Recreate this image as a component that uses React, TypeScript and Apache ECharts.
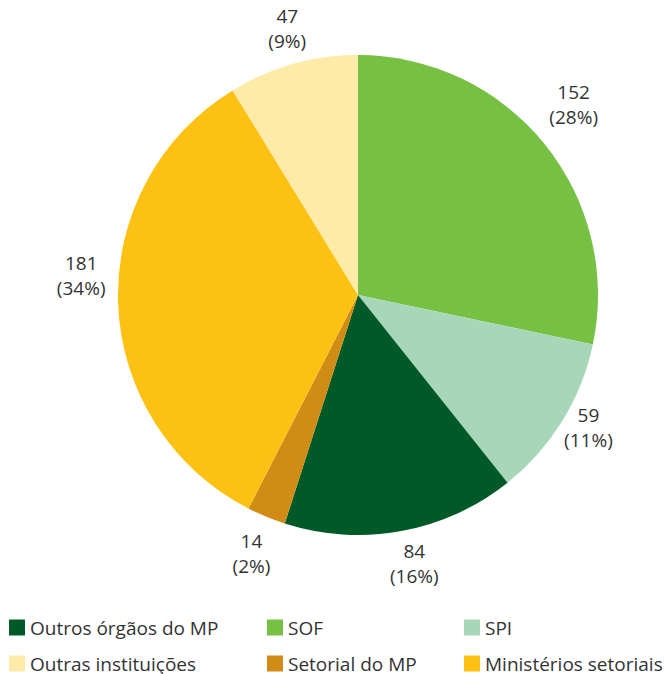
import React, { useEffect, useRef } from "react";
import * as echarts from "echarts";

const categories = ["SOF", "SPI", "Outros órgãos do MP", "Setorial do MP", "Ministérios setoriais", "Outras instituições"];
const values = [152, 59, 84, 14, 181, 47];
const percents = [28, 11, 16, 2, 34, 9];
const colors = ["#76C043", "#A7D7B8", "#005A28", "#D08C14", "#FDC113", "#FFEBA8"];
const labelOffsets = [[-1, -15], [-7, -14], [6, -6], [0, 1], [2, -30], [5, 2]];
const legendRows = [
  ["Outros órgãos do MP", "SOF", "SPI"],
  ["Outras instituições", "Setorial do MP", "Ministérios setoriais"],
];
const legendLefts = [9, 267, 464];
const legendTops = [618, 654];

export default function App() {
  const ref = useRef<HTMLDivElement>(null);
  useEffect(() => {
    if (!ref.current) return;
    const chart = echarts.init(ref.current, null, { renderer: "svg" });
    const font = "'Open Sans', 'Noto Sans', sans-serif";
    const colorOf = (n: string) => colors[categories.indexOf(n)];
    const legends: any[] = [];
    legendRows.forEach((row, r) =>
      row.forEach((n, c) =>
        legends.push({
          left: legendLefts[c],
          top: legendTops[r],
          padding: 0,
          itemWidth: 16,
          itemHeight: 16,
          icon: "rect",
          selectedMode: false,
          textStyle: { fontSize: 19, lineHeight: 16, color: "#333", fontFamily: font },
          data: [{ name: n, itemStyle: { color: colorOf(n) } }],
        })
      )
    );
    chart.setOption({
      animation: false,
      textStyle: { fontFamily: font },
      legend: legends,
      series: [
        {
          type: "pie",
          center: [358, 295],
          radius: [0, 240],
          startAngle: 90,
          clockwise: true,
          silent: true,
          label: { show: false },
          labelLine: { show: false },
          data: categories.map((n, i) => ({ name: n, value: values[i], itemStyle: { color: colors[i] } })),
        },
        {
          type: "pie",
          center: [358, 295],
          radius: [252, 300],
          startAngle: 90,
          clockwise: true,
          silent: true,
          itemStyle: { color: "transparent" },
          labelLine: { show: false },
          label: {
            show: true,
            position: "inside",
            fontSize: 19,
            lineHeight: 25,
            color: "#333",
            fontFamily: font,
            formatter: (p: any) => `${p.value}\n(${percents[p.dataIndex]}%)`,
          },
          data: categories.map((n, i) => ({
            name: n,
            value: values[i],
            label: { offset: labelOffsets[i] },
          })),
        },
      ],
    });
    return () => chart.dispose();
  }, []);
  return <div ref={ref} style={{ position: "absolute", left: 0, top: 0, width: 670, height: 674 }} />;
}
